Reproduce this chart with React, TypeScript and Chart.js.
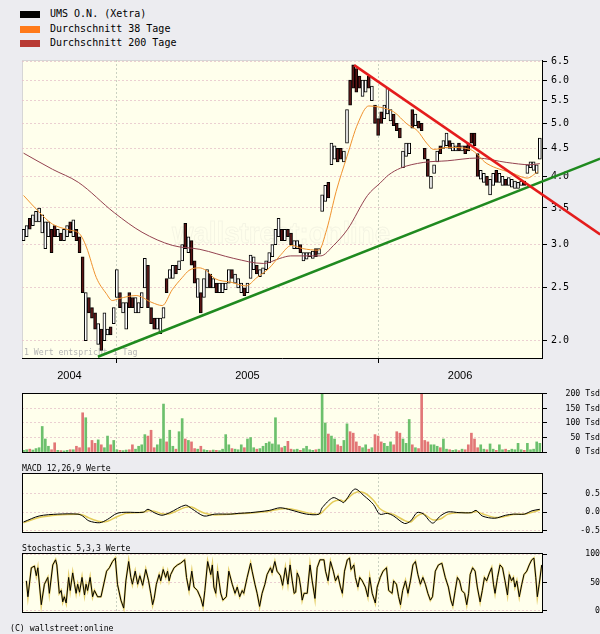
import React, { useEffect, useRef } from 'react';
import { Chart, registerables } from 'chart.js';

Chart.register(...registerables);

const MONO = "'DejaVu Sans Mono', monospace";
const SANS = "'Liberation Sans', Arial, sans-serif";

// ---------- data ----------
const legendItems = ['UMS O.N. (Xetra)', 'Durchschnitt 38 Tage', 'Durchschnitt 200 Tage'];
const legendColors = ['#000000', '#ff7a1a', '#b83a34'];
const yearLabels = ['2004', '2005', '2006'];
const yearStartIndex = [30, 114]; // candle index (3-day steps) where 2005 and 2006 begin
const priceTicks = [2.0, 2.5, 3.0, 3.5, 4.0, 4.5, 5.0, 5.5, 6.0, 6.5];
const volumeTicks = [0, 50, 100, 150, 200];
const macdTicks = [-0.5, 0, 0.5];
const stochTicks = [0, 50, 100];

const priceLow = [
  3.05, 3.1, 3.2, 3.25, 3.3, 3.3, 3.15, 2.95, 3.1, 2.9,
  3.1, 3.1, 3.05, 3.05, 3.1, 3.15, 3.1, 3.05, 2.9, 2.45,
  2.0, 2.25, 2.2, 2.1, 1.97, 1.92, 2.0, 2.05, 2.05, 2.15,
  2.4, 2.3, 2.25, 2.1, 2.3, 2.3, 2.25, 2.25, 2.3, 2.5,
  2.3, 2.15, 2.1, 2.1, 2.06, 2.2, 2.45, 2.6, 2.6, 2.65,
  2.7, 2.8, 2.95, 2.9, 2.75, 2.55, 2.4, 2.25, 2.4, 2.5,
  2.5, 2.5, 2.45, 2.45, 2.45, 2.48, 2.55, 2.6, 2.55, 2.5,
  2.45, 2.42, 2.45, 2.6, 2.7, 2.65, 2.62, 2.65, 2.7, 2.78,
  2.85, 3.0, 3.1, 3.05, 3.05, 3.1, 3.0, 2.95, 2.95, 2.9,
  2.8, 2.82, 2.85, 2.83, 2.85, 2.88, 3.45, 3.6, 3.65, 4.2,
  4.3, 4.25, 4.3, 4.25, 4.6, 5.4, 5.8, 5.7, 5.8, 5.6,
  5.7, 5.8, 5.5, 5.0, 4.75, 5.0, 5.1, 5.2, 5.05, 4.95,
  4.85, 4.7, 4.15, 4.35, 4.4, 4.9, 4.95, 4.9, 4.85, 4.3,
  4.0, 3.8, 4.05, 4.25, 4.4, 4.5, 4.55, 4.5, 4.45, 4.45,
  4.45, 4.45, 4.4, 4.45, 4.6, 4.55, 4.0, 3.95, 3.9, 3.85,
  3.7, 3.85, 3.9, 3.9, 3.85, 3.85, 3.85, 3.82, 3.8, 3.8,
  3.85, 3.85, 4.05, 4.15, 4.1, 4.05, 4.3,
];
const priceHigh = [
  3.2, 3.25, 3.35, 3.4, 3.45, 3.5, 3.4, 3.3, 3.3, 3.2,
  3.25, 3.2, 3.15, 3.2, 3.25, 3.3, 3.33, 3.2, 3.1, 2.85,
  2.45, 2.4, 2.3, 2.25, 2.15, 2.1, 2.25, 2.1, 2.12, 2.3,
  2.7, 2.45, 2.35, 2.35, 2.45, 2.4, 2.4, 2.35, 2.45, 2.83,
  2.75, 2.3, 2.2, 2.2, 2.2, 2.3, 2.6, 2.7, 2.75, 2.75,
  2.8, 3.0, 3.28, 3.1, 3.05, 2.8, 2.6, 2.45, 2.6, 2.7,
  2.65, 2.6, 2.55, 2.55, 2.55, 2.55, 2.7, 2.7, 2.65, 2.6,
  2.55, 2.5, 2.55, 2.87, 2.85, 2.75, 2.7, 2.72, 2.8, 2.9,
  3.0, 3.2, 3.35, 3.2, 3.2, 3.2, 3.15, 3.05, 3.05, 3.0,
  2.9, 2.9, 2.9, 2.92, 2.95, 2.95, 3.7, 3.85, 3.9, 4.6,
  4.55, 4.5, 4.5, 4.45, 5.3, 6.0, 6.4, 6.3, 6.1, 6.0,
  6.0, 6.1, 5.85, 5.4, 5.1, 5.25, 5.4, 5.8, 5.3, 5.2,
  5.0, 4.9, 4.45, 4.6, 4.6, 5.3, 5.2, 5.05, 5.0, 4.5,
  4.3, 4.0, 4.2, 4.45, 4.55, 4.65, 4.8, 4.65, 4.6, 4.55,
  4.6, 4.55, 4.55, 4.6, 4.8, 4.8, 4.4, 4.1, 4.05, 4.0,
  3.95, 4.05, 4.1, 4.05, 4.0, 3.95, 3.98, 3.95, 3.92, 3.9,
  3.92, 3.92, 4.2, 4.25, 4.25, 4.2, 4.7,
];
const volume = [
  6, 8, 10, 7, 12, 15, 88, 45, 20, 8,
  32, 6, 5, 4, 6, 8, 8, 20, 15, 135,
  118, 15, 40, 30, 42, 25, 15, 55, 25, 40,
  8, 6, 5, 7, 8, 25, 10, 20, 25, 60,
  55, 75, 15, 25, 45, 165, 35, 75, 20, 10,
  70, 115, 45, 40, 35, 12, 10, 20, 8, 6,
  5, 7, 6, 5, 10, 60, 25, 12, 10, 8,
  25, 15, 45, 50, 15, 10, 12, 20, 30, 35,
  28, 118, 25, 15, 20, 37, 10, 8, 10, 6,
  12, 20, 8, 6, 8, 10, 200, 100, 62, 55,
  45, 25, 20, 40, 97, 70, 65, 35, 20, 15,
  25, 10, 15, 60, 55, 35, 30, 20, 35, 25,
  70, 65, 45, 30, 112, 25, 15, 12, 200, 40,
  35, 25, 25, 20, 15, 45, 10, 8, 6, 8,
  5, 10, 8, 25, 65, 45, 15, 25, 10, 8,
  28, 10, 6, 25, 8, 10, 6, 10, 8, 30,
  8, 6, 30, 8, 10, 35, 30,
];
const volumeUp = [
  1, 1, 0, 1, 1, 1, 1, 1, 1, 0,
  0, 1, 0, 1, 1, 0, 1, 0, 0, 0,
  1, 0, 0, 0, 1, 0, 1, 1, 0, 1,
  1, 0, 1, 1, 0, 0, 1, 1, 1, 1,
  0, 0, 0, 1, 1, 1, 0, 1, 1, 0,
  1, 1, 0, 1, 0, 0, 1, 0, 1, 1,
  0, 1, 0, 1, 1, 1, 1, 0, 1, 1,
  1, 0, 1, 1, 1, 0, 1, 1, 1, 1,
  1, 1, 1, 0, 1, 0, 0, 1, 1, 0,
  1, 1, 1, 1, 0, 1, 1, 1, 0, 1,
  1, 0, 0, 1, 1, 0, 0, 0, 0, 1,
  1, 0, 1, 0, 0, 0, 1, 1, 1, 0,
  0, 0, 1, 1, 1, 0, 1, 0, 0, 0,
  0, 1, 1, 1, 0, 1, 1, 0, 1, 1,
  0, 1, 0, 0, 0, 0, 0, 1, 1, 0,
  1, 1, 0, 1, 1, 0, 1, 1, 1, 1,
  1, 0, 1, 1, 1, 1, 1,
];

const ma38X = [0, 5, 9.3, 14.7, 18, 20.2, 23.4, 26.6, 28.5, 30.8, 36.2, 41.3, 44.6, 47.8, 51, 53.2, 56.4, 58.7, 61.5, 66.7, 71.5, 75, 78.8, 82.4, 86.2, 89.7, 94.9, 97.5, 100.5, 104, 107.5, 111, 114.7, 119, 123.4, 126.6, 129.6, 131.9, 136.4, 143.6, 149, 157.4, 161.9, 165.4];
const ma38 = [3.69, 3.44, 3.27, 3.19, 3.14, 2.97, 2.61, 2.44, 2.37, 2.39, 2.42, 2.35, 2.32, 2.48, 2.61, 2.69, 2.72, 2.69, 2.6, 2.56, 2.52, 2.61, 2.71, 2.86, 2.99, 2.95, 2.93, 3.2, 3.75, 4.35, 5.0, 5.38, 5.35, 5.25, 4.98, 4.85, 4.6, 4.48, 4.52, 4.48, 4.22, 4.05, 3.97, 4.08];
const ma200X = [0, 9.3, 17.6, 29.2, 38.1, 47.8, 56.7, 67.6, 77.2, 82.4, 85.9, 95.5, 99.7, 104.2, 110.6, 114.7, 117.3, 121.2, 128.5, 136.2, 145.8, 155.4, 162.8, 166];
const ma200 = [4.41, 4.12, 3.9, 3.43, 3.16, 2.99, 2.94, 2.83, 2.77, 2.83, 2.86, 2.86, 2.99, 3.2, 3.69, 3.89, 4.02, 4.14, 4.24, 4.27, 4.32, 4.24, 4.2, 4.22];

const trendDownX = [106.3, 185.4];
const trendDown = [6.39, 3.13];
const trendUpX = [23.9, 185.4];
const trendUp = [1.87, 4.31];

const macdX = [0, 5, 11, 17.5, 19, 21, 24.5, 27, 30, 33, 38.5, 40, 42, 44.5, 47, 52, 54, 58, 61.5, 66.5, 69, 73, 79, 82.5, 86, 91, 95, 96, 99.5, 102, 103, 106.5, 109.5, 112.5, 114.5, 117, 119, 122.5, 124.5, 126.5, 128.5, 131.5, 134, 136.5, 140, 144, 145.5, 147.5, 151.5, 155, 157.5, 161, 163.5, 166];
const macdLine = [-0.26, -0.1, -0.05, -0.05, -0.1, -0.23, -0.28, -0.19, -0.03, 0.0, 0.0, 0.08, -0.01, -0.08, -0.01, 0.19, 0.1, -0.1, -0.05, -0.05, -0.03, -0.01, 0.05, 0.12, 0.06, -0.05, -0.05, 0.12, 0.39, 0.3, 0.26, 0.62, 0.44, 0.21, -0.05, -0.03, -0.1, -0.3, -0.23, -0.01, -0.04, -0.29, -0.1, 0.01, -0.01, -0.01, 0.05, -0.1, -0.16, -0.08, -0.05, -0.05, 0.04, 0.08];
const macdSignal = [-0.28, -0.14, -0.07, -0.05, -0.07, -0.15, -0.25, -0.24, -0.12, -0.03, 0.0, 0.04, 0.03, -0.04, -0.04, 0.13, 0.14, -0.02, -0.07, -0.05, -0.04, -0.02, 0.03, 0.09, 0.09, -0.01, -0.05, 0.0, 0.28, 0.33, 0.29, 0.52, 0.52, 0.32, 0.1, -0.02, -0.06, -0.22, -0.26, -0.1, -0.04, -0.2, -0.18, -0.05, -0.01, -0.01, 0.02, -0.04, -0.14, -0.11, -0.06, -0.05, 0.0, 0.06];

const stochX = [
  0.9, 1.4, 2.5, 3.5, 4.1, 4.6, 5.7, 6.7, 7.8, 8.3, 9.4, 10.3, 10.7, 11.5, 12.1, 12.6, 13.1, 13.7, 14.5, 15.0,
  15.8, 16.4, 16.9, 17.4, 18.0, 18.8, 19.6, 20.1, 20.6, 21.4, 22.2, 22.8, 23.8, 24.9, 26.7, 27.6, 28.6, 29.5, 30.2, 31.3,
  32.2, 32.9, 33.8, 34.5, 35.0, 35.9, 36.7, 37.4, 38.3, 39.3, 40.2, 40.9, 41.5, 42.0, 42.7, 43.6, 44.1, 44.9, 45.7, 46.3,
  46.8, 47.3, 48.4, 49.5, 50.5, 51.8, 52.4, 53.2, 54.1, 54.8, 55.9, 57.0, 57.7, 58.3, 59.2, 60.2, 60.7, 61.2, 61.8, 62.4,
  63.4, 64.1, 65.2, 66.0, 67.1, 68.0, 68.7, 69.5, 70.3, 70.8, 71.9, 73.0, 73.5, 74.4, 75.1, 75.9, 76.7, 77.6, 78.3, 79.4,
  79.9, 80.8, 81.5, 82.6, 83.3, 84.2, 85.0, 85.7, 86.4, 87.0, 87.5, 88.0, 88.6, 89.1, 89.6, 90.2, 91.2, 92.1, 92.8, 93.7,
  94.4, 95.3, 96.6, 97.1, 97.9, 98.7, 99.6, 100.3, 101.1, 101.9, 102.5, 103.2, 104.1, 104.8, 105.3, 106.2, 106.7, 107.5, 108.1, 108.9,
  109.9, 110.7, 111.3, 112.1, 113.1, 113.7, 114.7, 115.6, 116.7, 117.4, 118.5, 119.0, 119.9, 120.6, 121.2, 121.9, 122.8, 123.6, 124.4, 125.2,
  126.0, 126.8, 127.6, 128.4, 129.2, 130.0, 130.8, 131.5, 132.4, 133.4, 134.5, 135.6, 136.6, 137.4, 138.0, 138.8, 139.5, 140.2, 140.9, 141.8,
  142.5, 143.1, 143.6, 144.4, 145.2, 145.9, 146.8, 147.5, 148.2, 148.9, 149.8, 150.5, 151.1, 151.6, 152.4, 153.2, 154.0, 154.8, 155.6, 156.2,
  156.9, 157.5, 158.0, 158.6, 159.4, 160.2, 160.9, 161.8, 162.6, 163.4, 164.1, 164.7, 165.2, 165.8, 166.6,
];
const stochK = [
  53, 25, 76, 79, 62, 76, 11, 47, 59, 31, 81, 90, 81, 31, 36, 16, 25, 14, 59, 36,
  67, 47, 31, 47, 33, 59, 28, 47, 36, 59, 25, 36, 25, 25, 70, 76, 87, 93, 47, 19,
  5, 53, 87, 59, 47, 70, 47, 62, 45, 73, 53, 31, 11, 22, 47, 64, 53, 73, 59, 70,
  53, 64, 76, 81, 84, 90, 59, 36, 70, 42, 36, 22, 8, 36, 87, 64, 81, 42, 31, 70,
  31, 19, 25, 70, 47, 31, 42, 25, 36, 31, 59, 84, 70, 47, 31, 8, 31, 47, 64, 76,
  67, 87, 70, 62, 45, 76, 47, 81, 53, 31, 33, 67, 59, 42, 19, 31, 31, 81, 53, 22,
  76, 90, 90, 70, 53, 87, 70, 53, 62, 42, 31, 70, 90, 93, 73, 81, 59, 42, 59, 53,
  42, 25, 59, 31, 14, 42, 59, 70, 76, 36, 31, 53, 47, 25, 11, 36, 53, 31, 53, 81,
  87, 64, 47, 59, 47, 31, 19, 25, 70, 81, 84, 59, 42, 19, 9, 36, 59, 53, 36, 31,
  11, 31, 64, 76, 70, 42, 16, 36, 59, 53, 67, 76, 47, 31, 59, 81, 76, 53, 28, 64,
  53, 59, 42, 53, 25, 47, 64, 70, 81, 90, 93, 59, 25, 47, 81,
];

// ---------- presentation ----------
const X_MIN = -0.5;
const X_MAX = 166.7;
const PLOT_BG = '#ffffec';
const GRID_H = 'rgba(228,192,200,0.75)';
const GRID_V = 'rgba(196,204,188,0.9)';

const pts = (xs: number[], ys: number[]) => xs.map((x, i) => ({ x, y: ys[i] }));

const panelPlugin = {
  id: 'panel',
  beforeDraw(chart: any, _a: any, opts: any) {
    const { ctx, chartArea: a } = chart;
    ctx.save();
    ctx.fillStyle = PLOT_BG;
    ctx.fillRect(a.left, a.top, a.right - a.left, a.bottom - a.top);
    if (opts.softFrame) {
      ctx.strokeStyle = opts.softFrame;
      ctx.lineWidth = 1;
      ctx.strokeRect(Math.round(a.left) + 0.5, Math.round(a.top) + 0.5, Math.round(a.right - a.left), Math.round(a.bottom - a.top));
    }
    if (opts.watermark) {
      ctx.font = `bold 30px ${SANS}`;
      ctx.strokeStyle = 'rgba(185,185,185,0.16)';
      ctx.lineWidth = 1;
      ctx.textBaseline = 'alphabetic';
      ctx.strokeText(opts.watermark, 172, 243, 218);
    }
    if (opts.note) {
      ctx.font = `8.2px ${MONO}`;
      ctx.fillStyle = '#b4b4b4';
      ctx.textBaseline = 'middle';
      ctx.fillText(opts.note, a.left + 2, a.bottom - 5);
    }
    ctx.restore();
  },
  afterDraw(chart: any, _a: any, opts: any) {
    if (!opts.frame) return;
    const { ctx, chartArea: a } = chart;
    ctx.save();
    ctx.strokeStyle = opts.frame;
    ctx.lineWidth = 1;
    ctx.strokeRect(Math.round(a.left) + 0.5, Math.round(a.top) + 0.5, Math.round(a.right - a.left), Math.round(a.bottom - a.top));
    ctx.restore();
  },
};

function xScale(showLabels: boolean) {
  const bounds = [X_MIN, ...yearStartIndex, X_MAX];
  const centers = yearLabels.map((_, k) => (bounds[k] + bounds[k + 1]) / 2);
  const isBound = (c: any) => c.tick && yearStartIndex.includes(c.tick.value);
  return {
    type: 'linear',
    min: X_MIN,
    max: X_MAX,
    bounds: 'data',
    offset: false,
    afterBuildTicks: (s: any) => {
      const vals = showLabels ? [...yearStartIndex, ...centers] : [...yearStartIndex];
      s.ticks = vals.sort((a, b) => a - b).map((v) => ({ value: v }));
    },
    ticks: {
      display: showLabels,
      autoSkip: false,
      maxRotation: 0,
      padding: 6,
      color: '#000',
      font: { family: SANS, size: 11 },
      callback: (v: any) => {
        const k = centers.indexOf(Number(v));
        return k >= 0 ? yearLabels[k] : '';
      },
    },
    grid: {
      offset: false,
      color: (c: any) => (isBound(c) ? GRID_V : 'rgba(0,0,0,0)'),
      tickColor: (c: any) => (isBound(c) ? '#000' : 'rgba(0,0,0,0)'),
      tickLength: 5,
      drawTicks: showLabels,
    },
    border: { display: showLabels, color: '#000', dash: [2, 2] },
    afterFit: (s: any) => {
      s.height = showLabels ? 27 : 0;
    },
  };
}

function yScale(extra: any, ticks: number[], fmt: (v: number) => string, size: number, far: boolean) {
  return {
    position: 'right',
    bounds: 'data',
    ...extra,
    afterBuildTicks: (s: any) => {
      s.ticks = ticks.map((v) => ({ value: v }));
    },
    ticks: {
      autoSkip: false,
      color: '#000',
      padding: far ? 3 : 4,
      crossAlign: far ? 'far' : 'near',
      font: { family: MONO, size },
      callback: (v: any) => fmt(Number(v)),
    },
    grid: { color: GRID_H, tickColor: '#000', tickLength: 5 },
    border: { color: '#000', dash: [2, 2] },
    afterFit: (s: any) => {
      s.width = 58;
    },
  };
}

const baseOptions = (padTop: number, padBottom: number) => ({
  responsive: false,
  maintainAspectRatio: false,
  animation: false,
  devicePixelRatio: 1,
  layout: { padding: { left: 22, top: padTop, bottom: padBottom, right: 0 } },
  events: [],
});

function mainConfig(): any {
  return {
    type: 'bar',
    data: {
      datasets: [
        {
          type: 'line',
          data: pts(trendDownX, trendDown),
          borderColor: '#e41c1c',
          borderWidth: 2.5,
          pointRadius: 0,
          clip: false,
          order: 0,
        },
        {
          type: 'line',
          data: pts(trendUpX, trendUp),
          borderColor: '#1f8a1f',
          borderWidth: 2.5,
          pointRadius: 0,
          clip: false,
          order: 0,
        },
        {
          type: 'line',
          data: pts(ma38X, ma38),
          borderColor: '#f0922e',
          borderWidth: 1,
          pointRadius: 0,
          cubicInterpolationMode: 'monotone',
          order: 1,
        },
        {
          type: 'line',
          data: pts(ma200X, ma200),
          borderColor: '#944250',
          borderWidth: 1,
          pointRadius: 0,
          cubicInterpolationMode: 'monotone',
          order: 1,
        },
        {
          type: 'bar',
          data: priceLow.map((lo, i) => ({ x: i, y: [lo, priceHigh[i]] })),
          backgroundColor: volumeUp.map((u) => (u ? '#ffffff' : '#5a1414')),
          borderColor: '#000000',
          borderWidth: 1,
          borderSkipped: false,
          barThickness: 3,
          order: 2,
        },
      ],
    },
    options: {
      ...baseOptions(60, 0),
      plugins: {
        legend: { display: false },
        tooltip: { enabled: false },
        panel: { softFrame: '#d6d6d6', watermark: 'wallstreet:online', note: '1 Wert entspricht 1 Tag' },
      },
      scales: {
        x: xScale(true),
        y: yScale({ type: 'logarithmic', min: 1.86, max: 6.53 }, priceTicks, (v) => v.toFixed(1), 10, false),
      },
    },
    plugins: [panelPlugin],
  };
}

function volumeConfig(): any {
  return {
    type: 'bar',
    data: {
      datasets: [
        {
          data: volume.map((v, i) => ({ x: i, y: v })),
          backgroundColor: volumeUp.map((u) => (u ? '#6cc06c' : '#e27676')),
          borderWidth: 0,
          barThickness: 2,
        },
      ],
    },
    options: {
      ...baseOptions(13, 6),
      plugins: { legend: { display: false }, tooltip: { enabled: false }, panel: { frame: '#000' } },
      scales: {
        x: xScale(false),
        y: yScale({ type: 'linear', min: 0, max: 203 }, volumeTicks, (v) => `${v} Tsd`, 8.2, true),
      },
    },
    plugins: [panelPlugin],
  };
}

function macdConfig(): any {
  return {
    type: 'line',
    data: {
      datasets: [
        { data: pts(macdX, macdLine), borderColor: '#000', borderWidth: 1, pointRadius: 0, tension: 0.3, order: 0 },
        { data: pts(macdX, macdSignal), borderColor: '#e4cc5a', borderWidth: 1.5, pointRadius: 0, tension: 0.3, order: 1 },
      ],
    },
    options: {
      ...baseOptions(13, 6),
      plugins: { legend: { display: false }, tooltip: { enabled: false }, panel: { frame: '#000' } },
      scales: {
        x: xScale(false),
        y: yScale({ type: 'linear', min: -0.53, max: 1.05 }, macdTicks, (v) => v.toFixed(1), 8.2, true),
      },
    },
    plugins: [panelPlugin],
  };
}

function stochConfig(): any {
  return {
    type: 'line',
    data: {
      datasets: [
        { data: pts(stochX, stochK), borderColor: '#000', borderWidth: 1, pointRadius: 0, tension: 0, order: 0 },
        { data: pts(stochX, stochK), borderColor: '#e6d070', borderWidth: 2, pointRadius: 0, tension: 0, order: 1 },
      ],
    },
    options: {
      ...baseOptions(13, 6),
      plugins: { legend: { display: false }, tooltip: { enabled: false }, panel: { frame: '#000' } },
      scales: {
        x: xScale(false),
        y: yScale({ type: 'linear', min: -2, max: 102 }, stochTicks, (v) => String(v), 8.2, true),
      },
    },
    plugins: [panelPlugin],
  };
}

function ChartCanvas({ top, height, make }: { top: number; height: number; make: () => any }) {
  const ref = useRef<HTMLCanvasElement>(null);
  useEffect(() => {
    if (!ref.current) return;
    const chart = new Chart(ref.current, make());
    return () => chart.destroy();
  }, []);
  return (
    <canvas
      ref={ref}
      width={600}
      height={height}
      style={{ position: 'absolute', left: 0, top, width: 600, height, display: 'block' }}
    />
  );
}

const textStyle = (top: number, left: number, size: number): React.CSSProperties => ({
  position: 'absolute',
  top,
  left,
  fontFamily: MONO,
  fontSize: size,
  lineHeight: '12px',
  color: '#000',
  whiteSpace: 'pre',
});

export default function App() {
  Chart.defaults.font.family = MONO;
  return (
    <div
      style={{
        position: 'fixed',
        left: 0,
        top: 0,
        width: 600,
        height: 634,
        background: '#ececf0',
        overflow: 'hidden',
      }}
    >
      {legendItems.map((t, k) => (
        <div key={t}>
          <div
            style={{
              position: 'absolute',
              left: 20,
              top: 11 + k * 14.7,
              width: 20,
              height: 7,
              background: legendColors[k],
            }}
          />
          <div style={textStyle(8 + k * 14.7, 50, 10)}>{t}</div>
        </div>
      ))}
      <ChartCanvas top={0} height={385} make={mainConfig} />
      <ChartCanvas top={380} height={80} make={volumeConfig} />
      <div style={textStyle(462, 22, 8.2)}>MACD 12,26,9 Werte</div>
      <ChartCanvas top={460} height={80} make={macdConfig} />
      <div style={textStyle(542, 22, 8.2)}>Stochastic 5,3,3 Werte</div>
      <ChartCanvas top={540} height={80} make={stochConfig} />
      <div style={textStyle(622, 10, 8.2)}>(C) wallstreet:online</div>
    </div>
  );
}
